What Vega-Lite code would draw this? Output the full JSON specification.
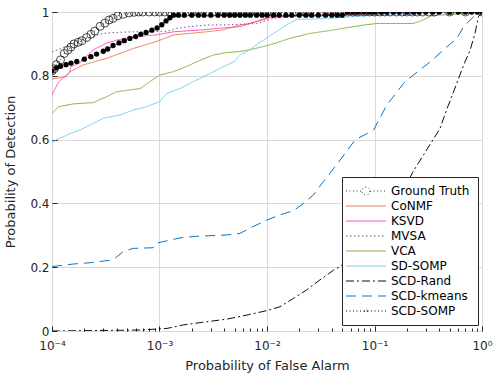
{
"$schema": "https://vega.github.io/schema/vega-lite/v6.json",
"autosize": "none",
"width": 430, "height": 319,
"padding": {"left": 52, "top": 12, "right": 12, "bottom": 42},
"config": {
  "font": "DejaVu Sans",
  "view": {"stroke": "#262626", "strokeWidth": 1},
  "scale": {"continuousPadding": 0},
  "axis": {"domain": false, "labelFlush": false, "labelColor": "#262626", "titleColor": "#262626", "labelFontSize": 12, "titleFontSize": 13, "titleFontWeight": "normal", "tickColor": "#262626", "labelFont": "DejaVu Sans", "titleFont": "DejaVu Sans"},
  "legend": {"orient": "none", "legendX": 290, "legendY": 165, "strokeColor": "#262626", "fillColor": "white", "padding": 8, "labelFontSize": 12, "labelColor": "#000000", "symbolType": "M-4,0L4,0", "symbolSize": 100, "symbolOffset": 10, "labelOffset": 19, "rowPadding": 3}
},
"data": {"values": [
{"m":"Ground Truth","fa":0.0001,"pd":0.815},{"m":"Ground Truth","fa":0.000105,"pd":0.822},{"m":"Ground Truth","fa":0.00011,"pd":0.835},{"m":"Ground Truth","fa":0.00012,"pd":0.85},{"m":"Ground Truth","fa":0.00013,"pd":0.87},{"m":"Ground Truth","fa":0.00014,"pd":0.88},{"m":"Ground Truth","fa":0.00015,"pd":0.89},{"m":"Ground Truth","fa":0.00016,"pd":0.9},{"m":"Ground Truth","fa":0.000175,"pd":0.905},{"m":"Ground Truth","fa":0.00019,"pd":0.91},{"m":"Ground Truth","fa":0.00021,"pd":0.92},{"m":"Ground Truth","fa":0.00023,"pd":0.93},{"m":"Ground Truth","fa":0.00025,"pd":0.94},{"m":"Ground Truth","fa":0.00028,"pd":0.955},{"m":"Ground Truth","fa":0.00031,"pd":0.965},{"m":"Ground Truth","fa":0.00034,"pd":0.975},{"m":"Ground Truth","fa":0.00037,"pd":0.98},{"m":"Ground Truth","fa":0.00041,"pd":0.988},{"m":"Ground Truth","fa":0.00046,"pd":0.993},{"m":"Ground Truth","fa":0.00052,"pd":0.997},{"m":"Ground Truth","fa":0.00058,"pd":0.999},{"m":"Ground Truth","fa":0.00064,"pd":1},
{"m":"Ground Truth","fa":0.0007,"pd":1},{"m":"Ground Truth","fa":0.0008,"pd":1},{"m":"Ground Truth","fa":0.0009,"pd":1},{"m":"Ground Truth","fa":0.001,"pd":1},{"m":"Ground Truth","fa":0.00112,"pd":1},{"m":"Ground Truth","fa":0.00125,"pd":1},{"m":"Ground Truth","fa":0.0014,"pd":1},{"m":"Ground Truth","fa":0.0016,"pd":1},{"m":"Ground Truth","fa":0.0018,"pd":1},{"m":"Ground Truth","fa":0.002,"pd":1},{"m":"Ground Truth","fa":0.00225,"pd":1},{"m":"Ground Truth","fa":0.0025,"pd":1},{"m":"Ground Truth","fa":0.0028,"pd":1},{"m":"Ground Truth","fa":0.0032,"pd":1},{"m":"Ground Truth","fa":0.0036,"pd":1},{"m":"Ground Truth","fa":0.004,"pd":1},{"m":"Ground Truth","fa":0.0045,"pd":1},{"m":"Ground Truth","fa":0.005,"pd":1},{"m":"Ground Truth","fa":0.0056,"pd":1},{"m":"Ground Truth","fa":0.0063,"pd":1},{"m":"Ground Truth","fa":0.007,"pd":1},{"m":"Ground Truth","fa":0.008,"pd":1},{"m":"Ground Truth","fa":0.009,"pd":1},{"m":"Ground Truth","fa":0.01,"pd":1},{"m":"Ground Truth","fa":0.0112,"pd":1},{"m":"Ground Truth","fa":0.0125,"pd":1},{"m":"Ground Truth","fa":0.014,"pd":1},{"m":"Ground Truth","fa":0.016,"pd":1},{"m":"Ground Truth","fa":0.018,"pd":1},{"m":"Ground Truth","fa":0.02,"pd":1},{"m":"Ground Truth","fa":0.0225,"pd":1},{"m":"Ground Truth","fa":0.025,"pd":1},{"m":"Ground Truth","fa":0.028,"pd":1},{"m":"Ground Truth","fa":0.032,"pd":1},{"m":"Ground Truth","fa":0.036,"pd":1},{"m":"Ground Truth","fa":0.04,"pd":1},{"m":"Ground Truth","fa":0.045,"pd":1},{"m":"Ground Truth","fa":0.05,"pd":1},{"m":"Ground Truth","fa":0.056,"pd":1},{"m":"Ground Truth","fa":0.063,"pd":1},{"m":"Ground Truth","fa":0.07,"pd":1},{"m":"Ground Truth","fa":0.08,"pd":1},{"m":"Ground Truth","fa":0.09,"pd":1},{"m":"Ground Truth","fa":0.1,"pd":1},{"m":"Ground Truth","fa":0.112,"pd":1},{"m":"Ground Truth","fa":0.125,"pd":1},{"m":"Ground Truth","fa":0.14,"pd":1},{"m":"Ground Truth","fa":0.16,"pd":1},{"m":"Ground Truth","fa":0.18,"pd":1},{"m":"Ground Truth","fa":0.2,"pd":1},{"m":"Ground Truth","fa":0.225,"pd":1},{"m":"Ground Truth","fa":0.25,"pd":1},{"m":"Ground Truth","fa":0.28,"pd":1},{"m":"Ground Truth","fa":0.32,"pd":1},{"m":"Ground Truth","fa":0.36,"pd":1},{"m":"Ground Truth","fa":0.5,"pd":1},{"m":"Ground Truth","fa":0.7,"pd":1},{"m":"Ground Truth","fa":1,"pd":1},

{"m":"CoNMF","fa":0.0001,"pd":0.79},{"m":"CoNMF","fa":0.000135,"pd":0.797},{"m":"CoNMF","fa":0.000148,"pd":0.813},{"m":"CoNMF","fa":0.000195,"pd":0.834},{"m":"CoNMF","fa":0.000324,"pd":0.855},{"m":"CoNMF","fa":0.000575,"pd":0.886},{"m":"CoNMF","fa":0.00093,"pd":0.907},{"m":"CoNMF","fa":0.00135,"pd":0.928},{"m":"CoNMF","fa":0.00275,"pd":0.938},{"m":"CoNMF","fa":0.0039,"pd":0.944},{"m":"CoNMF","fa":0.0056,"pd":0.959},{"m":"CoNMF","fa":0.0069,"pd":0.964},{"m":"CoNMF","fa":0.0107,"pd":0.985},{"m":"CoNMF","fa":0.02,"pd":0.99},{"m":"CoNMF","fa":0.1,"pd":0.995},{"m":"CoNMF","fa":0.3,"pd":1},{"m":"CoNMF","fa":1,"pd":1},

{"m":"KSVD","fa":0.0001,"pd":0.74},{"m":"KSVD","fa":0.000105,"pd":0.755},{"m":"KSVD","fa":0.000115,"pd":0.78},{"m":"KSVD","fa":0.00013,"pd":0.797},{"m":"KSVD","fa":0.000145,"pd":0.81},{"m":"KSVD","fa":0.00015,"pd":0.829},{"m":"KSVD","fa":0.00018,"pd":0.839},{"m":"KSVD","fa":0.0002,"pd":0.855},{"m":"KSVD","fa":0.00024,"pd":0.881},{"m":"KSVD","fa":0.00032,"pd":0.902},{"m":"KSVD","fa":0.0004,"pd":0.912},{"m":"KSVD","fa":0.00057,"pd":0.923},{"m":"KSVD","fa":0.00093,"pd":0.928},{"m":"KSVD","fa":0.00135,"pd":0.938},{"m":"KSVD","fa":0.0025,"pd":0.944},{"m":"KSVD","fa":0.0036,"pd":0.949},{"m":"KSVD","fa":0.0056,"pd":0.954},{"m":"KSVD","fa":0.0069,"pd":0.964},{"m":"KSVD","fa":0.0115,"pd":0.985},{"m":"KSVD","fa":0.02,"pd":0.99},{"m":"KSVD","fa":0.1,"pd":0.995},{"m":"KSVD","fa":0.3,"pd":1},{"m":"KSVD","fa":1,"pd":1},

{"m":"MVSA","fa":0.0001,"pd":0.875},{"m":"MVSA","fa":0.00012,"pd":0.885},{"m":"MVSA","fa":0.00014,"pd":0.895},{"m":"MVSA","fa":0.00016,"pd":0.905},{"m":"MVSA","fa":0.0002,"pd":0.915},{"m":"MVSA","fa":0.00025,"pd":0.925},{"m":"MVSA","fa":0.0003,"pd":0.933},{"m":"MVSA","fa":0.0004,"pd":0.936},{"m":"MVSA","fa":0.00057,"pd":0.938},{"m":"MVSA","fa":0.0008,"pd":0.938},{"m":"MVSA","fa":0.0012,"pd":0.94},{"m":"MVSA","fa":0.00145,"pd":0.949},{"m":"MVSA","fa":0.002,"pd":0.955},{"m":"MVSA","fa":0.00275,"pd":0.959},{"m":"MVSA","fa":0.0045,"pd":0.96},{"m":"MVSA","fa":0.008,"pd":0.964},{"m":"MVSA","fa":0.0115,"pd":0.98},{"m":"MVSA","fa":0.019,"pd":0.987},{"m":"MVSA","fa":0.03,"pd":0.99},{"m":"MVSA","fa":0.1,"pd":0.995},{"m":"MVSA","fa":0.3,"pd":1},{"m":"MVSA","fa":1,"pd":1},

{"m":"VCA","fa":0.0001,"pd":0.682},{"m":"VCA","fa":0.000115,"pd":0.703},{"m":"VCA","fa":0.000158,"pd":0.712},{"m":"VCA","fa":0.000242,"pd":0.716},{"m":"VCA","fa":0.000324,"pd":0.735},{"m":"VCA","fa":0.0004,"pd":0.75},{"m":"VCA","fa":0.00066,"pd":0.76},{"m":"VCA","fa":0.00081,"pd":0.781},{"m":"VCA","fa":0.001,"pd":0.802},{"m":"VCA","fa":0.00135,"pd":0.813},{"m":"VCA","fa":0.00178,"pd":0.829},{"m":"VCA","fa":0.0024,"pd":0.849},{"m":"VCA","fa":0.00316,"pd":0.865},{"m":"VCA","fa":0.0042,"pd":0.873},{"m":"VCA","fa":0.0056,"pd":0.876},{"m":"VCA","fa":0.0079,"pd":0.886},{"m":"VCA","fa":0.0107,"pd":0.897},{"m":"VCA","fa":0.0162,"pd":0.917},{"m":"VCA","fa":0.0251,"pd":0.933},{"m":"VCA","fa":0.0389,"pd":0.942},{"m":"VCA","fa":0.0513,"pd":0.949},{"m":"VCA","fa":0.079,"pd":0.959},{"m":"VCA","fa":0.105,"pd":0.964},{"m":"VCA","fa":0.229,"pd":0.964},{"m":"VCA","fa":0.284,"pd":0.975},{"m":"VCA","fa":0.331,"pd":0.987},{"m":"VCA","fa":0.4,"pd":0.99},{"m":"VCA","fa":0.7,"pd":0.995},{"m":"VCA","fa":1,"pd":1},

{"m":"SD-SOMP","fa":0.0001,"pd":0.59},{"m":"SD-SOMP","fa":0.00011,"pd":0.6},{"m":"SD-SOMP","fa":0.00013,"pd":0.61},{"m":"SD-SOMP","fa":0.00015,"pd":0.62},{"m":"SD-SOMP","fa":0.000182,"pd":0.63},{"m":"SD-SOMP","fa":0.00024,"pd":0.65},{"m":"SD-SOMP","fa":0.0003,"pd":0.667},{"m":"SD-SOMP","fa":0.000427,"pd":0.677},{"m":"SD-SOMP","fa":0.000575,"pd":0.693},{"m":"SD-SOMP","fa":0.00076,"pd":0.703},{"m":"SD-SOMP","fa":0.001,"pd":0.719},{"m":"SD-SOMP","fa":0.00117,"pd":0.745},{"m":"SD-SOMP","fa":0.00155,"pd":0.76},{"m":"SD-SOMP","fa":0.00204,"pd":0.781},{"m":"SD-SOMP","fa":0.00275,"pd":0.802},{"m":"SD-SOMP","fa":0.00363,"pd":0.823},{"m":"SD-SOMP","fa":0.0049,"pd":0.844},{"m":"SD-SOMP","fa":0.0056,"pd":0.865},{"m":"SD-SOMP","fa":0.0069,"pd":0.881},{"m":"SD-SOMP","fa":0.0079,"pd":0.897},{"m":"SD-SOMP","fa":0.0093,"pd":0.912},{"m":"SD-SOMP","fa":0.0115,"pd":0.933},{"m":"SD-SOMP","fa":0.0151,"pd":0.959},{"m":"SD-SOMP","fa":0.019,"pd":0.977},{"m":"SD-SOMP","fa":0.0389,"pd":0.98},{"m":"SD-SOMP","fa":0.0589,"pd":0.985},{"m":"SD-SOMP","fa":0.1,"pd":0.99},{"m":"SD-SOMP","fa":0.3,"pd":0.995},{"m":"SD-SOMP","fa":1,"pd":1},

{"m":"SCD-Rand","fa":0.0001,"pd":0},{"m":"SCD-Rand","fa":0.00066,"pd":0.003},{"m":"SCD-Rand","fa":0.00117,"pd":0.008},{"m":"SCD-Rand","fa":0.00166,"pd":0.019},{"m":"SCD-Rand","fa":0.00275,"pd":0.029},{"m":"SCD-Rand","fa":0.0042,"pd":0.037},{"m":"SCD-Rand","fa":0.0065,"pd":0.05},{"m":"SCD-Rand","fa":0.01,"pd":0.064},{"m":"SCD-Rand","fa":0.0132,"pd":0.076},{"m":"SCD-Rand","fa":0.0176,"pd":0.102},{"m":"SCD-Rand","fa":0.0234,"pd":0.129},{"m":"SCD-Rand","fa":0.031,"pd":0.16},{"m":"SCD-Rand","fa":0.0417,"pd":0.191},{"m":"SCD-Rand","fa":0.0479,"pd":0.202},{"m":"SCD-Rand","fa":0.1,"pd":0.3},{"m":"SCD-Rand","fa":0.16,"pd":0.4},{"m":"SCD-Rand","fa":0.229,"pd":0.5},{"m":"SCD-Rand","fa":0.407,"pd":0.635},{"m":"SCD-Rand","fa":0.468,"pd":0.693},{"m":"SCD-Rand","fa":0.582,"pd":0.776},{"m":"SCD-Rand","fa":0.676,"pd":0.834},{"m":"SCD-Rand","fa":0.776,"pd":0.881},{"m":"SCD-Rand","fa":0.861,"pd":0.933},{"m":"SCD-Rand","fa":0.925,"pd":0.985},{"m":"SCD-Rand","fa":1,"pd":1},

{"m":"SCD-kmeans","fa":0.0001,"pd":0.202},{"m":"SCD-kmeans","fa":0.000158,"pd":0.21},{"m":"SCD-kmeans","fa":0.000226,"pd":0.214},{"m":"SCD-kmeans","fa":0.00037,"pd":0.223},{"m":"SCD-kmeans","fa":0.00046,"pd":0.249},{"m":"SCD-kmeans","fa":0.00057,"pd":0.259},{"m":"SCD-kmeans","fa":0.00087,"pd":0.261},{"m":"SCD-kmeans","fa":0.00093,"pd":0.275},{"m":"SCD-kmeans","fa":0.00126,"pd":0.285},{"m":"SCD-kmeans","fa":0.00155,"pd":0.292},{"m":"SCD-kmeans","fa":0.00224,"pd":0.297},{"m":"SCD-kmeans","fa":0.0042,"pd":0.301},{"m":"SCD-kmeans","fa":0.0056,"pd":0.306},{"m":"SCD-kmeans","fa":0.0074,"pd":0.327},{"m":"SCD-kmeans","fa":0.01,"pd":0.348},{"m":"SCD-kmeans","fa":0.0132,"pd":0.364},{"m":"SCD-kmeans","fa":0.0176,"pd":0.377},{"m":"SCD-kmeans","fa":0.0219,"pd":0.4},{"m":"SCD-kmeans","fa":0.0269,"pd":0.426},{"m":"SCD-kmeans","fa":0.0334,"pd":0.468},{"m":"SCD-kmeans","fa":0.0479,"pd":0.536},{"m":"SCD-kmeans","fa":0.066,"pd":0.599},{"m":"SCD-kmeans","fa":0.098,"pd":0.63},{"m":"SCD-kmeans","fa":0.13,"pd":0.708},{"m":"SCD-kmeans","fa":0.186,"pd":0.776},{"m":"SCD-kmeans","fa":0.229,"pd":0.802},{"m":"SCD-kmeans","fa":0.331,"pd":0.844},{"m":"SCD-kmeans","fa":0.437,"pd":0.881},{"m":"SCD-kmeans","fa":0.582,"pd":0.917},{"m":"SCD-kmeans","fa":0.676,"pd":0.954},{"m":"SCD-kmeans","fa":0.832,"pd":0.985},{"m":"SCD-kmeans","fa":0.925,"pd":0.996},{"m":"SCD-kmeans","fa":1,"pd":1},

{"m":"SCD-SOMP","fa":0.0001,"pd":0.815},{"m":"SCD-SOMP","fa":0.00011,"pd":0.825},{"m":"SCD-SOMP","fa":0.00012,"pd":0.83},{"m":"SCD-SOMP","fa":0.000135,"pd":0.835},{"m":"SCD-SOMP","fa":0.00015,"pd":0.84},{"m":"SCD-SOMP","fa":0.00017,"pd":0.845},{"m":"SCD-SOMP","fa":0.0002,"pd":0.852},{"m":"SCD-SOMP","fa":0.00023,"pd":0.86},{"m":"SCD-SOMP","fa":0.00026,"pd":0.868},{"m":"SCD-SOMP","fa":0.0003,"pd":0.877},{"m":"SCD-SOMP","fa":0.00033,"pd":0.884},{"m":"SCD-SOMP","fa":0.00037,"pd":0.895},{"m":"SCD-SOMP","fa":0.00042,"pd":0.903},{"m":"SCD-SOMP","fa":0.00047,"pd":0.91},{"m":"SCD-SOMP","fa":0.00053,"pd":0.917},{"m":"SCD-SOMP","fa":0.0006,"pd":0.923},{"m":"SCD-SOMP","fa":0.00067,"pd":0.93},{"m":"SCD-SOMP","fa":0.00075,"pd":0.936},{"m":"SCD-SOMP","fa":0.00085,"pd":0.943},{"m":"SCD-SOMP","fa":0.00095,"pd":0.95},{"m":"SCD-SOMP","fa":0.00105,"pd":0.96},{"m":"SCD-SOMP","fa":0.00115,"pd":0.972},{"m":"SCD-SOMP","fa":0.00125,"pd":0.982},{"m":"SCD-SOMP","fa":0.00135,"pd":0.99},{"m":"SCD-SOMP","fa":0.0015,"pd":0.99},{"m":"SCD-SOMP","fa":0.0017,"pd":0.99},{"m":"SCD-SOMP","fa":0.002,"pd":0.99},{"m":"SCD-SOMP","fa":0.0023,"pd":0.99},{"m":"SCD-SOMP","fa":0.0026,"pd":0.99},{"m":"SCD-SOMP","fa":0.003,"pd":0.99},{"m":"SCD-SOMP","fa":0.0035,"pd":0.99},{"m":"SCD-SOMP","fa":0.004,"pd":0.99},{"m":"SCD-SOMP","fa":0.0045,"pd":0.99},{"m":"SCD-SOMP","fa":0.005,"pd":0.99},{"m":"SCD-SOMP","fa":0.0056,"pd":0.99},{"m":"SCD-SOMP","fa":0.0063,"pd":0.99},{"m":"SCD-SOMP","fa":0.007,"pd":0.99},{"m":"SCD-SOMP","fa":0.008,"pd":0.99},{"m":"SCD-SOMP","fa":0.009,"pd":0.99},{"m":"SCD-SOMP","fa":0.01,"pd":0.99},{"m":"SCD-SOMP","fa":0.0115,"pd":0.99},{"m":"SCD-SOMP","fa":0.013,"pd":0.99},{"m":"SCD-SOMP","fa":0.015,"pd":0.99},{"m":"SCD-SOMP","fa":0.017,"pd":0.99},{"m":"SCD-SOMP","fa":0.02,"pd":0.99},{"m":"SCD-SOMP","fa":0.023,"pd":0.99},{"m":"SCD-SOMP","fa":0.026,"pd":0.99},{"m":"SCD-SOMP","fa":0.03,"pd":0.99},{"m":"SCD-SOMP","fa":0.035,"pd":0.99},{"m":"SCD-SOMP","fa":0.04,"pd":0.99},{"m":"SCD-SOMP","fa":0.045,"pd":0.99},{"m":"SCD-SOMP","fa":0.05,"pd":0.99},{"m":"SCD-SOMP","fa":0.056,"pd":1},{"m":"SCD-SOMP","fa":0.063,"pd":1},{"m":"SCD-SOMP","fa":0.07,"pd":1},{"m":"SCD-SOMP","fa":0.08,"pd":1},{"m":"SCD-SOMP","fa":0.09,"pd":1},{"m":"SCD-SOMP","fa":0.1,"pd":1},{"m":"SCD-SOMP","fa":0.115,"pd":1},{"m":"SCD-SOMP","fa":0.13,"pd":1},{"m":"SCD-SOMP","fa":0.15,"pd":1},{"m":"SCD-SOMP","fa":0.17,"pd":1},{"m":"SCD-SOMP","fa":0.2,"pd":1},{"m":"SCD-SOMP","fa":0.23,"pd":1},{"m":"SCD-SOMP","fa":0.26,"pd":1},{"m":"SCD-SOMP","fa":0.3,"pd":1},{"m":"SCD-SOMP","fa":0.35,"pd":1},{"m":"SCD-SOMP","fa":0.4,"pd":1},{"m":"SCD-SOMP","fa":0.5,"pd":1},{"m":"SCD-SOMP","fa":0.6,"pd":1},{"m":"SCD-SOMP","fa":0.7,"pd":1},{"m":"SCD-SOMP","fa":0.8,"pd":1},{"m":"SCD-SOMP","fa":0.9,"pd":1},{"m":"SCD-SOMP","fa":1,"pd":1}
]},
"layer": [
  {
    "mark": {"type": "line", "clip": true},
    "encoding": {
      "x": {"field": "fa", "type": "quantitative", "scale": {"type": "log", "domain": [0.0001, 1], "nice": false, "padding": 0},
            "axis": {"orient": "bottom", "values": [0.0001, 0.001, 0.01, 0.1, 1], "gridColor": "#d9d9d9", "tickSize": -5, "labelPadding": 14, "title": "Probability of False Alarm", "titlePadding": 8,
                     "labelExpr": "datum.value < 0.0005 ? '10⁻⁴' : datum.value < 0.005 ? '10⁻³' : datum.value < 0.05 ? '10⁻²' : datum.value < 0.5 ? '10⁻¹' : '10⁰'"}},
      "y": {"field": "pd", "type": "quantitative", "scale": {"domain": [0, 1], "nice": false, "padding": 0},
            "axis": {"values": [0,0.1,0.2,0.3,0.4,0.5,0.6,0.7,0.8,0.9,1], "format": "~g", "gridColor": "#d9d9d9", "tickSize": -5, "labelPadding": 8, "title": "Probability of Detection", "titlePadding": 12}},
      "color": {"field": "m", "type": "nominal", "title": null,
                "scale": {"domain": ["Ground Truth","CoNMF","KSVD","MVSA","VCA","SD-SOMP","SCD-Rand","SCD-kmeans","SCD-SOMP"],
                          "range": ["#000000","#E0662F","#FF33B0","#7E2F8E","#77AC30","#6CC9F2","#000000","#0072BD","#000000"]},
                "legend": {"encode": {"symbols": {"update": {"shape": {"signal": "datum.value === 'Ground Truth' ? 'M-4,0L-0.8,0M0.8,0L4,0M0.8,0A0.8,0.8,0,1,1,-0.8,0A0.8,0.8,0,1,1,0.8,0' : datum.value === 'SCD-SOMP' ? 'M-4,0L-0.3,0M0.3,0L4,0M0.3,0A0.3,0.3,0,1,1,-0.3,0A0.3,0.3,0,1,1,0.3,0' : 'M-4,0L4,0'"}}}}}},
      "strokeDash": {"field": "m", "type": "nominal", "title": null,
                "scale": {"domain": ["Ground Truth","CoNMF","KSVD","MVSA","VCA","SD-SOMP","SCD-Rand","SCD-kmeans","SCD-SOMP"],
                          "range": [[1,2.5],[1,0],[1,0],[1.5,2.5],[1,0],[1,0],[8,3,2,3],[10,6],[1,2.5]]}},
      "strokeWidth": {"field": "m", "type": "nominal", "title": null,
                "scale": {"domain": ["Ground Truth","CoNMF","KSVD","MVSA","VCA","SD-SOMP","SCD-Rand","SCD-kmeans","SCD-SOMP"],
                          "range": [0.8,1,1,2.5,1,1.5,1.2,1,1]}}
    }
  },
  {
    "transform": [{"filter": "datum.m === 'Ground Truth'"}],
    "mark": {"type": "point", "shape": "circle", "size": 64, "stroke": "#000000", "strokeWidth": 1, "filled": false, "clip": true},
    "encoding": {
      "x": {"field": "fa", "type": "quantitative", "scale": {"type": "log", "domain": [0.0001, 1], "nice": false, "padding": 0},
            "axis": {"orient": "bottom", "values": [0.0002,0.0003,0.0004,0.0005,0.0006,0.0007,0.0008,0.0009,0.002,0.003,0.004,0.005,0.006,0.007,0.008,0.009,0.02,0.03,0.04,0.05,0.06,0.07,0.08,0.09,0.2,0.3,0.4,0.5,0.6,0.7,0.8,0.9],
                     "labels": false, "title": null, "tickSize": -3, "gridDash": [1,3], "gridColor": "#c8c8c8"}},
      "y": {"field": "pd", "type": "quantitative"}
    }
  },
  {
    "transform": [{"filter": "datum.m === 'SCD-SOMP'"}],
    "mark": {"type": "point", "shape": "circle", "size": 28, "color": "#000000", "filled": true, "opacity": 1, "clip": true},
    "encoding": {
      "x": {"field": "fa", "type": "quantitative", "axis": null},
      "y": {"field": "pd", "type": "quantitative"}
    }
  }
],
"resolve": {"axis": {"x": "independent"}}
}
